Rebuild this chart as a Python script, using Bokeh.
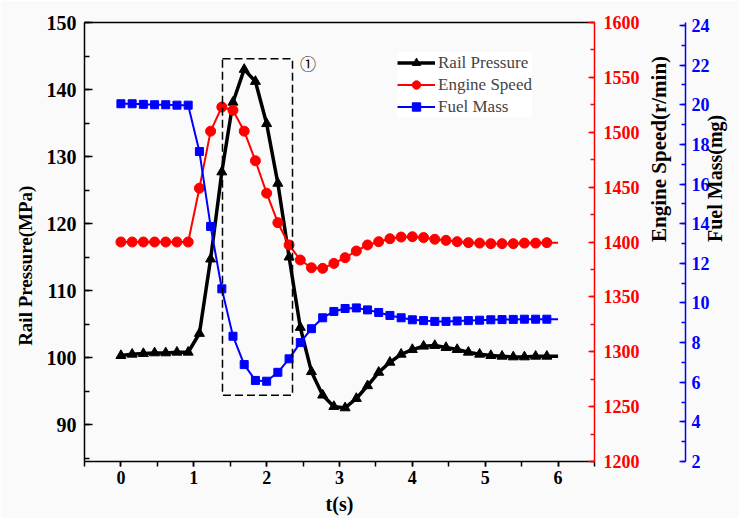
import math
from bokeh.plotting import figure
from bokeh.models import (Range1d, LinearAxis, SingleIntervalTicker, FixedTicker, Legend,
                          LegendItem, Label, ColumnDataSource, BoxAnnotation)
from bokeh.embed import file_html
from bokeh.resources import INLINE

# ---------------- data ----------------
time_s = [0.0, 0.154, 0.308, 0.462, 0.615, 0.769, 0.923, 1.077, 1.231, 1.385,
          1.538, 1.692, 1.846, 2.0, 2.154, 2.308, 2.462, 2.615, 2.769, 2.923,
          3.077, 3.231, 3.385, 3.538, 3.692, 3.846, 4.0, 4.154, 4.308, 4.462,
          4.615, 4.769, 4.923, 5.077, 5.231, 5.385, 5.538, 5.692, 5.846, 6.0]

rail_pressure = [100.3, 100.5, 100.6, 100.7, 100.7, 100.8, 100.8, 103.6, 114.7, 127.7,
                 138.1, 143.0, 141.2, 134.9, 126.0, 115.0, 104.5, 97.9, 94.4, 92.7,
                 92.5, 93.9, 95.8, 97.8, 99.3, 100.5, 101.2, 101.7, 101.8, 101.5,
                 101.2, 100.8, 100.5, 100.3, 100.2, 100.1, 100.1, 100.2, 100.2, 100.2]

engine_speed = [1400, 1400, 1400, 1400, 1400, 1400, 1400, 1449, 1501, 1523,
                1520, 1501, 1474, 1444.5, 1417.6, 1397.3, 1383.6, 1376.5, 1376, 1380.5,
                1385.7, 1391.8, 1397.3, 1400.3, 1403, 1404.5, 1404.8, 1404, 1402.5, 1401.5,
                1400.3, 1399.4, 1399, 1398.5, 1398.5, 1398.5, 1399, 1399, 1399.4, 1399.4]

fuel_mass = [20.05, 20.05, 20.02, 20.0, 20.0, 19.98, 19.98, 17.64, 13.86, 10.71,
             8.32, 6.89, 6.09, 6.05, 6.5, 7.18, 8.0, 8.70, 9.25, 9.57,
             9.72, 9.75, 9.65, 9.52, 9.37, 9.25, 9.15, 9.11, 9.07, 9.07,
             9.09, 9.11, 9.13, 9.15, 9.16, 9.17, 9.18, 9.18, 9.18, 9.18]

series_names = ["Rail Pressure", "Engine Speed", "Fuel Mass"]
x_title = "t(s)"
left_title = "Rail Pressure(MPa)"
red_title = "Engine Speed(r/min)"
blue_title = "Fuel Mass(mg)"

# ---------------- styling ----------------
BG = "#fafafa"
SERIF = "Liberation Serif"
NB = "\u00a0"

src = ColumnDataSource(data=dict(t=time_s, rail=rail_pressure, speed=engine_speed, fuel=fuel_mass))
src_m = ColumnDataSource(data=dict(t=time_s[:-1], rail=rail_pressure[:-1],
                                   speed=engine_speed[:-1], fuel=fuel_mass[:-1]))

p = figure(width=739, height=518, output_backend="svg", toolbar_location=None,
           x_range=Range1d(-0.5, 6.5), y_range=Range1d(84.5, 150),
           min_border_left=84, min_border_right=145, min_border_top=22, min_border_bottom=57,
           background_fill_color=BG, border_fill_color=BG, outline_line_color=None)
p.extra_y_ranges = {"speed": Range1d(1200, 1600), "fuel": Range1d(2, 24.15)}
p.xgrid.visible = False
p.ygrid.visible = False


def style_axis(ax, color, size, standoff, tin, tout, mtin, mtout):
    ax.axis_line_color = color
    ax.axis_line_width = 1.5
    ax.major_tick_line_color = color
    ax.minor_tick_line_color = color
    ax.major_tick_line_width = 1.5
    ax.minor_tick_line_width = 1.5
    ax.major_tick_in = tin
    ax.major_tick_out = tout
    ax.minor_tick_in = mtin
    ax.minor_tick_out = mtout
    ax.major_label_text_color = color
    ax.major_label_text_font = SERIF
    ax.major_label_text_font_style = "bold"
    ax.major_label_text_font_size = size
    ax.major_label_standoff = standoff


def style_title(ax, text, size, standoff):
    ax.axis_label = text
    ax.axis_label_text_font = SERIF
    ax.axis_label_text_font_style = "bold"
    ax.axis_label_text_font_size = size
    ax.axis_label_text_color = "black"
    ax.axis_label_standoff = standoff


# left axis
ly = p.yaxis[0]
ly.ticker = SingleIntervalTicker(interval=10, num_minor_ticks=2)
style_axis(ly, "black", "20px", 8, 8, 0, 5, 0)
style_title(ly, left_title + NB * 10, "19px", 8)

# bottom axis
bx = p.xaxis[0]
bx.ticker = SingleIntervalTicker(interval=1, num_minor_ticks=2)
style_axis(bx, "black", "18px", 4, 0, 5, 0, 5)
style_title(bx, x_title, "20px", 6)

# top border
top = LinearAxis(ticker=FixedTicker(ticks=[]), axis_line_color="black", axis_line_width=1.5,
                 major_tick_out=0, major_tick_in=0)
p.add_layout(top, "above")

# right red axis
ra = LinearAxis(y_range_name="speed", ticker=SingleIntervalTicker(interval=50, num_minor_ticks=2))
style_axis(ra, "red", "18px", 9, 6, 0, 4, 0)
style_title(ra, red_title + NB * 4, "21px", 16)
ra.axis_label_orientation = math.pi / 2
p.add_layout(ra, "right")

# spacer between red and blue axes
sp = LinearAxis(y_range_name="speed", ticker=FixedTicker(ticks=[]), axis_line_color=None,
                major_tick_out=24, major_tick_in=0)
p.add_layout(sp, "right")

# blue axis
ba = LinearAxis(y_range_name="fuel", ticker=SingleIntervalTicker(interval=2, num_minor_ticks=2))
style_axis(ba, "blue", "18px", 6, 6, 0, 4, 0)
style_title(ba, blue_title, "20px", 2)
ba.axis_label_orientation = math.pi / 2
p.add_layout(ba, "right")

# ---------------- series ----------------
rp_line = p.line(x="t", y="rail", source=src, line_color="black", line_width=3.5)
rp_mark = p.scatter(x="t", y="rail", source=src_m, marker="triangle", size=10,
                    fill_color="black", line_color="black")

es_line = p.line(x="t", y="speed", source=src, line_color="red", line_width=2, y_range_name="speed")
es_mark = p.scatter(x="t", y="speed", source=src_m, marker="circle", size=10,
                    fill_color="red", line_color="red", y_range_name="speed")

fm_line = p.line(x="t", y="fuel", source=src, line_color="blue", line_width=2, y_range_name="fuel")
fm_mark = p.scatter(x="t", y="fuel", source=src_m, marker="square", size=8,
                    fill_color="blue", line_color="blue", y_range_name="fuel")

# dashed highlight box
box = BoxAnnotation(left=1.394, right=2.355, bottom=94.4, top=144.6, fill_alpha=0,
                    line_color="black", line_alpha=1, line_width=1.5, line_dash="8 4")
p.add_layout(box)

p.add_layout(Label(x=2.568, y=144.0, text="①", text_font="Noto Sans CJK SC", text_font_size="16px",
                   text_align="center", text_baseline="middle", text_color="black"))

legend = Legend(items=[LegendItem(label=series_names[0], renderers=[rp_line, rp_mark]),
                       LegendItem(label=series_names[1], renderers=[es_line, es_mark]),
                       LegendItem(label=series_names[2], renderers=[fm_line, fm_mark])],
                location=(313, 344), orientation="vertical",
                label_text_font=SERIF, label_text_font_size="17px",
                glyph_width=38, glyph_height=21, label_height=21, label_standoff=3,
                spacing=1, padding=4, margin=0,
                background_fill_color="white", background_fill_alpha=1, border_line_color=None)
p.add_layout(legend)

open("out.html", "w").write(file_html(p, INLINE))
